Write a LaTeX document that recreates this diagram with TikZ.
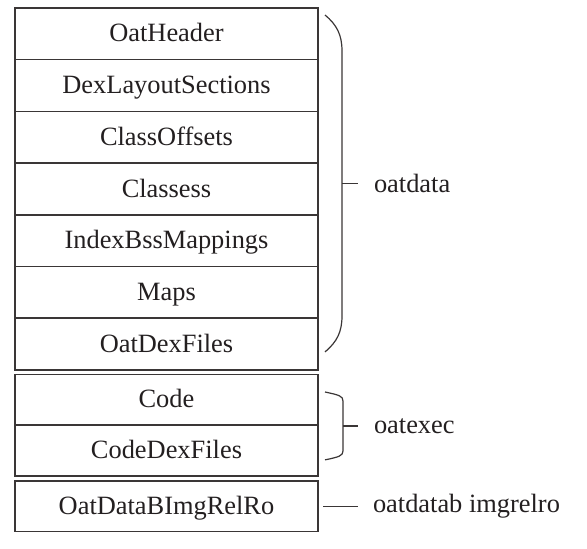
\documentclass[tikz,border=0pt]{standalone}
\usepackage{fontspec}
\setmainfont{Liberation Serif}
\usetikzlibrary{positioning,calc}
\definecolor{linha}{HTML}{3A3636}
\definecolor{tinta}{HTML}{231F20}

\begin{document}
\begin{tikzpicture}[x=1pt, y=1pt, font=\fontsize{26.4}{31}\selectfont,
  campo/.style={draw=linha, line width=1.5pt, outer sep=0pt, inner sep=0pt,
                minimum width=303pt, minimum height=51.7pt, text=tinta,
                text height=18.2pt, text depth=2pt},
  curto/.style={campo, minimum height=50.75pt},
  rotulo/.style={inner ysep=0pt, inner xsep=16pt, outer sep=0pt, text=tinta},
  chave/.style={draw=linha, line width=1.2pt}]
\useasboundingbox (0,0) rectangle (587,-549);
% oatdata
\node[campo] (hdr) at (166.5,-33.85) {OatHeader};
\node[campo, below=0pt of hdr] (dls) {DexLayoutSections};
\node[campo, below=0pt of dls] (cof) {ClassOffsets};
\node[campo, below=0pt of cof] (cls) {Classess};
\node[campo, below=0pt of cls] (ibm) {IndexBssMappings};
\node[campo, below=0pt of ibm] (maps) {Maps};
\node[campo, below=0pt of maps] (odf) {OatDexFiles};
% oatexec
\node[curto, below=4.5pt of odf] (code) {Code};
\node[curto, below=0pt of code] (cdf) {CodeDexFiles};
% oatdatab imgrelro
\node[curto, below=5pt of cdf] (rel) {OatDataBImgRelRo};

\coordinate (d1) at ($(hdr.north east)+(7,-7)$);
\coordinate (d2) at ($(odf.south east)+(7,18)$);
\coordinate (dm) at ($(d1)!0.5!(d2)+(17,0)$);
\draw[chave] (d1) .. controls ($(d1)+(12,-10)$) and ($(d1)+(17,-20)$) .. ($(d1)+(17,-36)$)
  -- ($(d2)+(17,36)$) .. controls ($(d2)+(17,20)$) and ($(d2)+(12,10)$) .. (d2);
\node[rotulo, right=16pt of dm] (odt) {oatdata};
\draw[chave] (dm) -- (odt);

\coordinate (e1) at ($(code.north east)+(7,-17.6)$);
\coordinate (e2) at ($(cdf.south east)+(7,16)$);
\coordinate (em) at ($(e1)!0.5!(e2)+(18,0)$);
\draw[chave] (e1) .. controls ($(e1)+(14,-3)$) and ($(e1)+(18,-4)$) .. ($(e1)+(18,-9)$)
  -- ($(e2)+(18,9)$) .. controls ($(e2)+(18,4)$) and ($(e2)+(14,3)$) .. (e2);
\node[rotulo, right=15pt of em] (oex) {oatexec};
\draw[chave] (em) -- (oex);

\coordinate (r1) at ($(rel.east)+(5,0)$);
\node[rotulo, right=35pt of r1, inner xsep=15pt] (orr) {oatdatab imgrelro};
\draw[chave] (r1) -- (orr);
\end{tikzpicture}
\end{document}
